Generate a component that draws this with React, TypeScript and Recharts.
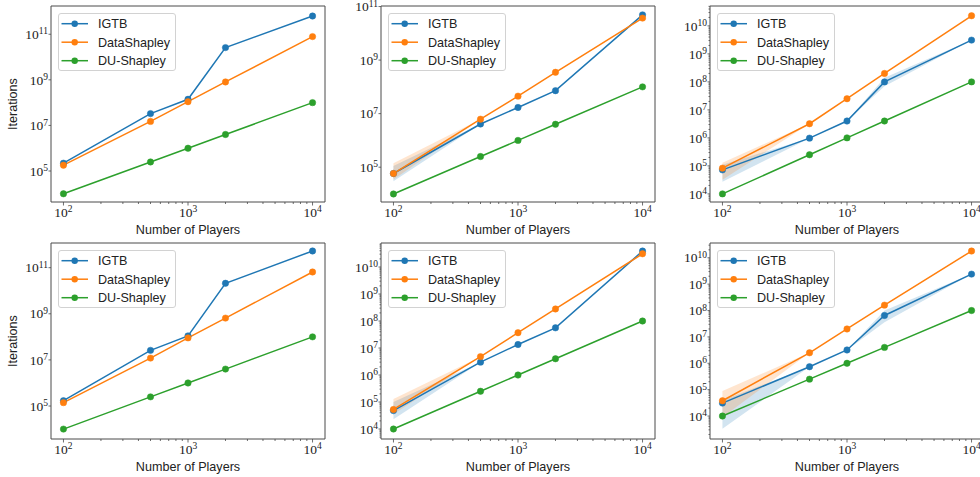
// Six log-log panels: iterations needed vs number of players, 2x3 grid.
import { ComposedChart, Line, Area, XAxis, YAxis, ReferenceArea } from 'recharts';

const PLAYERS = [100, 500, 1000, 2000, 10000];
const X_MAJOR = [100, 1000, 10000];
const X_TICKS = [
  100, 200, 300, 400, 500, 600, 700, 800, 900,
  1000, 2000, 3000, 4000, 5000, 6000, 7000, 8000, 9000, 10000,
];
const SERIES = ['IGTB', 'DataShapley', 'DU-Shapley'];
const COLORS = ['#1f77b4', '#ff7f0e', '#2ca02c'];

const ODD_DECADES = [1e5, 1e7, 1e9, 1e11];
const ALL_DECADES = [1e4, 1e5, 1e6, 1e7, 1e8, 1e9, 1e10];

// top-left
const p1Igtb = [2.2e5, 3.3e7, 1.4e8, 2.6e10, 6.3e11];
const p1Data = [1.8e5, 1.5e7, 1.1e8, 8.1e8, 7.9e10];
const p1Du = [1e4, 2.5e5, 1e6, 4e6, 1e8];
// top-middle
const p2Igtb = [5.8e4, 4.1e6, 1.7e7, 7.2e7, 4.9e10];
const p2Data = [5.8e4, 6.2e6, 4.5e7, 3.5e8, 3.7e10];
const p2Du = [1e4, 2.5e5, 1e6, 4e6, 1e8];
const p2IgtbLo = [3.0e4, null, null, null, null];
const p2IgtbHi = [1.1e5, null, null, null, null];
const p2DataLo = [3.5e4, null, null, null, null];
const p2DataHi = [1.4e5, null, null, null, null];
// top-right
const p3Igtb = [7.2e4, 9.8e5, 4e6, 1e8, 3.1e9];
const p3Data = [8.3e4, 3.2e6, 2.5e7, 2e8, 2.3e10];
const p3Du = [1e4, 2.5e5, 1e6, 4e6, 1e8];
const p3IgtbLo = [2.7e4, null, null, 7e7, null];
const p3IgtbHi = [1.1e5, null, null, 1.4e8, null];
const p3DataLo = [3.2e4, null, null, null, null];
const p3DataHi = [1.3e5, null, null, null, null];
// bottom-left
const p4Igtb = [1.7e5, 2.6e7, 1.1e8, 2.1e10, 5.3e11];
const p4Data = [1.4e5, 1.2e7, 9e7, 6.5e8, 6.5e10];
const p4Du = [1e4, 2.5e5, 1e6, 4e6, 1e8];
// bottom-middle
const p5Igtb = [4.8e4, 3e6, 1.35e7, 5.6e7, 3.9e10];
const p5Data = [5.3e4, 4.8e6, 3.7e7, 2.8e8, 3.1e10];
const p5Du = [1e4, 2.5e5, 1e6, 4e6, 1e8];
const p5IgtbLo = [2.3e4, null, null, null, null];
const p5IgtbHi = [1.0e5, null, null, null, null];
const p5DataLo = [3.5e4, null, null, null, null];
const p5DataHi = [1.3e5, null, null, null, null];
// bottom-right
const p6Igtb = [3.1e4, 7.4e5, 3.2e6, 6.5e7, 2.4e9];
const p6Data = [3.8e4, 2.5e6, 2e7, 1.6e8, 1.8e10];
const p6Du = [1e4, 2.5e5, 1e6, 4e6, 1e8];
const p6IgtbLo = [3.3e3, null, null, 3.6e7, null];
const p6IgtbHi = [3.9e4, null, null, 1.0e8, null];
const p6DataLo = [9e3, null, null, null, null];
const p6DataHi = [8.9e4, null, null, null, null];

const SANS = '"Liberation Sans", Arial, sans-serif';
const SERIF = '"Liberation Serif", "Times New Roman", serif';
const INK = '#222';
const FRAME = '#4a4a4a';

// chart box: y-axis gutter on the left, x-axis band below
const AXIS_W = 45;
const TOP_M = 6;
const PLOT_W = 274;
const PLOT_H = 196;
const CHART_W = AXIS_W + PLOT_W + 5;
const CHART_H = TOP_M + PLOT_H + 40;
const PLOT_BOTTOM = TOP_M + PLOT_H;

const X_DOMAIN = [Math.pow(10, 1.9), Math.pow(10, 4.1)];

type Band = (number | null)[];
type Panel = {
  left: number;
  top: number;
  yLo: number;
  yHi: number;
  yTicks: number[];
  minor: boolean;
  igtb: number[];
  data: number[];
  du: number[];
  igtbLo?: Band;
  igtbHi?: Band;
  dataLo?: Band;
  dataHi?: Band;
  yLabel: boolean;
};

const PANELS: Panel[] = [
  { left: 51, top: 6, yLo: 3.64, yHi: 12.24, yTicks: ODD_DECADES, minor: false, igtb: p1Igtb, data: p1Data, du: p1Du, yLabel: true },
  { left: 381, top: 6, yLo: 3.7, yHi: 11.02, yTicks: ODD_DECADES, minor: false, igtb: p2Igtb, data: p2Data, du: p2Du,
    igtbLo: p2IgtbLo, igtbHi: p2IgtbHi, dataLo: p2DataLo, dataHi: p2DataHi, yLabel: false },
  { left: 710, top: 6, yLo: 3.71, yHi: 10.71, yTicks: ALL_DECADES, minor: true, igtb: p3Igtb, data: p3Data, du: p3Du,
    igtbLo: p3IgtbLo, igtbHi: p3IgtbHi, dataLo: p3DataLo, dataHi: p3DataHi, yLabel: false },
  { left: 51, top: 243, yLo: 3.57, yHi: 12.07, yTicks: ODD_DECADES, minor: false, igtb: p4Igtb, data: p4Data, du: p4Du, yLabel: true },
  { left: 381, top: 243, yLo: 3.63, yHi: 10.89, yTicks: ALL_DECADES, minor: true, igtb: p5Igtb, data: p5Data, du: p5Du,
    igtbLo: p5IgtbLo, igtbHi: p5IgtbHi, dataLo: p5DataLo, dataHi: p5DataHi, yLabel: false },
  { left: 710, top: 243, yLo: 3.13, yHi: 10.56, yTicks: ALL_DECADES, minor: true, igtb: p6Igtb, data: p6Data, du: p6Du,
    igtbLo: p6IgtbLo, igtbHi: p6IgtbHi, dataLo: p6DataLo, dataHi: p6DataHi, yLabel: false },
];

function minorTicks(lo: number, hi: number): number[] {
  const out: number[] = [];
  for (let e = Math.floor(lo); e <= Math.ceil(hi); e++) {
    for (let k = 2; k <= 9; k++) {
      const v = k * Math.pow(10, e);
      const l = Math.log10(v);
      if (l > lo && l < hi) out.push(v);
    }
  }
  return out;
}

function expOf(v: number) {
  return Math.round(Math.log10(v));
}

function XTick(props: any) {
  const { x, payload } = props;
  const v = payload.value;
  const major = X_MAJOR.includes(v);
  return (
    <g>
      <line x1={x} x2={x} y1={PLOT_BOTTOM} y2={PLOT_BOTTOM + (major ? 3.5 : 2)} stroke={FRAME} strokeWidth={0.8} />
      {major && (
        <text x={x} y={PLOT_BOTTOM + 14.5} textAnchor="middle" fontFamily={SERIF} fontSize={13.5} fill={INK}>
          10<tspan dy={-4.5} fontSize={9.5}>{expOf(v)}</tspan>
        </text>
      )}
    </g>
  );
}

function makeYTick(labeled: number[]) {
  return (props: any) => {
    const { y, payload } = props;
    const v = payload.value;
    const major = labeled.includes(v);
    return (
      <g>
        <line x1={AXIS_W} x2={AXIS_W - (major ? 2.5 : 1.5)} y1={y} y2={y} stroke={FRAME} strokeWidth={0.8} />
        {major && (
          <text x={AXIS_W - 3} y={y + 4.7} textAnchor="end" fontFamily={SERIF} fontSize={13.5} fill={INK}>
            10<tspan dy={-4.5} fontSize={9.5}>{expOf(v)}</tspan>
          </text>
        )}
      </g>
    );
  };
}

function PanelLegend() {
  return (
    <div
      style={{
        position: 'absolute',
        left: AXIS_W + 7,
        top: TOP_M + 7,
        width: 118,
        height: 58,
        boxSizing: 'border-box',
        border: '1px solid #d2d2d2',
        borderRadius: 3,
        background: 'rgba(255,255,255,0.8)',
      }}
    >
      <svg width={118} height={58} style={{ position: 'absolute', left: -1, top: -1 }}>
        {SERIES.map((name, i) => {
          const y = 10.7 + i * 18.5;
          return (
            <g key={name}>
              <line x1={3.5} x2={30} y1={y} y2={y} stroke={COLORS[i]} strokeWidth={1.5} />
              <circle cx={16.7} cy={y} r={3.2} fill={COLORS[i]} />
              <text x={40} y={y + 4.4} fontFamily={SANS} fontSize={12.6} fill={INK}>
                {name}
              </text>
            </g>
          );
        })}
      </svg>
    </div>
  );
}

function ChartPanel({ p }: { p: Panel }) {
  const rows = PLAYERS.map((x, i) => ({
    x,
    igtb: p.igtb[i],
    data: p.data[i],
    du: p.du[i],
    igtbBand: [p.igtbLo?.[i] ?? p.igtb[i], p.igtbHi?.[i] ?? p.igtb[i]],
    dataBand: [p.dataLo?.[i] ?? p.data[i], p.dataHi?.[i] ?? p.data[i]],
  }));
  const yDomain = [Math.pow(10, p.yLo), Math.pow(10, p.yHi)];
  const yTicks = p.minor ? [...p.yTicks, ...minorTicks(p.yLo, p.yHi)] : p.yTicks;

  return (
    <div style={{ position: 'absolute', left: p.left - AXIS_W, top: p.top - TOP_M, width: CHART_W, height: CHART_H }}>
      <ComposedChart width={CHART_W} height={CHART_H} data={rows} margin={{ top: TOP_M, right: 5, bottom: 0, left: 0 }}>
        <XAxis
          dataKey="x"
          type="number"
          scale="log"
          domain={X_DOMAIN}
          allowDataOverflow
          ticks={X_TICKS}
          interval={0}
          tick={<XTick />}
          tickLine={false}
          axisLine={false}
          height={40}
          label={() => (
            <text x={AXIS_W + PLOT_W / 2} y={PLOT_BOTTOM + 31.5} textAnchor="middle" fontFamily={SANS} fontSize={12.6} fill={INK}>
              Number of Players
            </text>
          )}
        />
        <YAxis
          type="number"
          scale="log"
          domain={yDomain}
          allowDataOverflow
          ticks={yTicks}
          interval={0}
          tick={makeYTick(p.yTicks)}
          tickLine={false}
          axisLine={false}
          width={AXIS_W}
          label={
            p.yLabel
              ? () => (
                  <text
                    transform={`translate(11.3, ${TOP_M + PLOT_H / 2}) rotate(-90)`}
                    textAnchor="middle"
                    fontFamily={SANS}
                    fontSize={12.6}
                    fill={INK}
                  >
                    Iterations
                  </text>
                )
              : undefined
          }
        />
        <Area dataKey="igtbBand" type="linear" stroke="none" fill={COLORS[0]} fillOpacity={0.2} dot={false} activeDot={false} isAnimationActive={false} />
        <Area dataKey="dataBand" type="linear" stroke="none" fill={COLORS[1]} fillOpacity={0.2} dot={false} activeDot={false} isAnimationActive={false} />
        <Line dataKey="igtb" type="linear" stroke={COLORS[0]} strokeWidth={1.5} dot={{ r: 3.2, fill: COLORS[0], stroke: COLORS[0], strokeWidth: 0.5 }} activeDot={false} isAnimationActive={false} />
        <Line dataKey="data" type="linear" stroke={COLORS[1]} strokeWidth={1.5} dot={{ r: 3.2, fill: COLORS[1], stroke: COLORS[1], strokeWidth: 0.5 }} activeDot={false} isAnimationActive={false} />
        <Line dataKey="du" type="linear" stroke={COLORS[2]} strokeWidth={1.5} dot={{ r: 3.2, fill: COLORS[2], stroke: COLORS[2], strokeWidth: 0.5 }} activeDot={false} isAnimationActive={false} />
        <ReferenceArea x1={X_DOMAIN[0]} x2={X_DOMAIN[1]} y1={yDomain[0]} y2={yDomain[1]} fill="none" stroke={FRAME} strokeWidth={1} ifOverflow="visible" />
      </ComposedChart>
      <PanelLegend />
    </div>
  );
}

export default function App() {
  return (
    <div style={{ position: 'absolute', left: 0, top: 0, width: 980, height: 477, overflow: 'hidden', background: '#fff' }}>
      {PANELS.map((p, i) => (
        <ChartPanel key={i} p={p} />
      ))}
    </div>
  );
}
